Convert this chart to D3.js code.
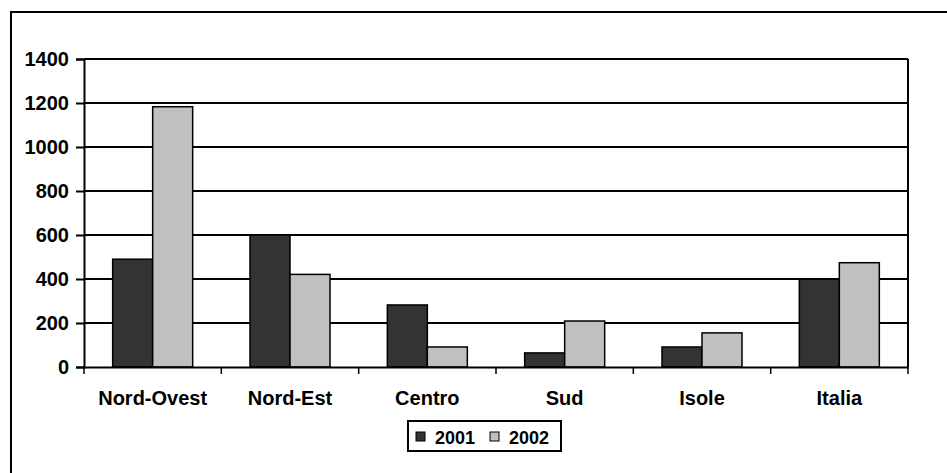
<!DOCTYPE html>
<html>
<head>
<meta charset="utf-8">
<script src="https://cdn.jsdelivr.net/npm/d3@7"></script>
<style>
  body { margin: 0; background: #fff; }
  text { font-family: "Liberation Sans", Arial, sans-serif; font-weight: bold; }
</style>
</head>
<body>
<svg id="drawspace" width="947" height="473"></svg>
<script>
// data
let regions = ["Nord-Ovest", "Nord-Est", "Centro", "Sud", "Isole", "Italia"];
let years = ["2001", "2002"];
let v2001 = [490, 600, 282, 64, 91, 399];
let v2002 = [1183, 421, 91, 209, 155, 474];
let yTicks = [0, 200, 400, 600, 800, 1000, 1200, 1400];
let colors = ["#333333", "#c0c0c0"];

let svg = d3.select("#drawspace");

// outer chart frame (runs off the right and bottom edge)
svg.append("rect")
  .attr("x", 11).attr("y", 12)
  .attr("width", 960).attr("height", 480)
  .attr("fill", "#fff").attr("stroke", "#000").attr("stroke-width", 2);

let pl = 84, pr = 908, pt = 59, pb = 367;

let xscale = d3.scaleBand().domain(regions).range([pl, pr]);
let yscale = d3.scaleLinear().domain([0, 1400]).range([pb, pt]);
let inner = d3.scaleBand().domain(years).range([0, 80]);

let rows = regions.map((r, i) => ({region: r, vals: [v2001[i], v2002[i]]}));

// gridlines
svg.append("g").selectAll("line").data(yTicks.slice(1))
  .enter().append("line")
  .attr("x1", pl).attr("x2", pr)
  .attr("y1", d => yscale(d)).attr("y2", d => yscale(d))
  .attr("stroke", "#000").attr("stroke-width", 2);

// plot area right border
svg.append("line")
  .attr("x1", pr).attr("x2", pr)
  .attr("y1", pt).attr("y2", pb)
  .attr("stroke", "#000").attr("stroke-width", 2);

// bars
let groups = svg.append("g").selectAll("g").data(rows)
  .enter().append("g")
  .attr("transform", d => "translate(" + (xscale(d.region) + (xscale.bandwidth() - 80) / 2) + ",0)");

groups.selectAll("rect").data(d => d.vals.map((v, j) => ({year: years[j], v: v, j: j})))
  .enter().append("rect")
  .attr("x", d => inner(d.year))
  .attr("width", inner.bandwidth())
  .attr("y", d => yscale(d.v))
  .attr("height", d => pb - yscale(d.v))
  .attr("fill", d => colors[d.j])
  .attr("stroke", "#000").attr("stroke-width", 1.5);

// y axis
let yAxis = svg.append("g")
  .attr("transform", "translate(" + pl + ",0)")
  .call(d3.axisLeft(yscale).tickValues(yTicks).tickFormat(d3.format("d")).tickSize(8).tickPadding(7));
yAxis.selectAll("line").attr("stroke-width", 2);
yAxis.select(".domain").attr("stroke-width", 2);
yAxis.selectAll("text").attr("font-size", 20).attr("fill", "#000")
  .style("font-family", "'Liberation Sans', Arial, sans-serif").style("font-weight", "bold");

// x axis, ticks at category boundaries
let xAxis = svg.append("g")
  .attr("transform", "translate(0," + pb + ")")
  .call(d3.axisBottom(xscale).tickSize(0).tickPadding(24));
xAxis.select(".domain").attr("stroke-width", 2);
xAxis.selectAll("text").attr("font-size", 20).attr("fill", "#000")
  .style("font-family", "'Liberation Sans', Arial, sans-serif").style("font-weight", "bold");
svg.append("g").selectAll("line").data(regions.concat(["end"]))
  .enter().append("line")
  .attr("x1", (d, i) => pl + i * xscale.step())
  .attr("x2", (d, i) => pl + i * xscale.step())
  .attr("y1", pb).attr("y2", pb + 7)
  .attr("stroke", "#000").attr("stroke-width", 1.5);

// legend
let legend = svg.append("g").attr("transform", "translate(408,421)");
legend.append("rect")
  .attr("width", 153).attr("height", 30)
  .attr("fill", "#fff").attr("stroke", "#000").attr("stroke-width", 2);
let items = legend.selectAll("g.item").data(years)
  .enter().append("g").attr("class", "item")
  .attr("transform", (d, i) => "translate(" + (8 + i * 74) + ",0)");
items.append("rect")
  .attr("y", 11).attr("width", 9).attr("height", 9)
  .attr("fill", (d, i) => colors[i])
  .attr("stroke", "#000").attr("stroke-width", 1);
items.append("text")
  .attr("x", 19).attr("y", 23)
  .attr("font-size", 18)
  .text(d => d);
</script>
</body>
</html>
